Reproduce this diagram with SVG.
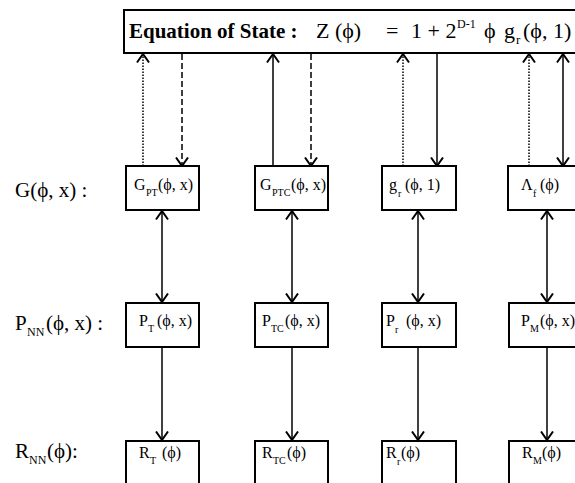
<svg xmlns="http://www.w3.org/2000/svg" width="575" height="483" viewBox="0 0 575 483">
<style>
text{font-family:"Liberation Serif","Times New Roman",serif;fill:#000}
.box{fill:#fff;stroke:#000;stroke-width:2}
.t{font-size:16px}
.s{font-size:10px}
.lab{font-size:21px}
.ls{font-size:12px}
.c{fill:none;stroke:#000;stroke-width:1.5}
.dot{stroke-dasharray:1.5 1.5}
.dash{stroke-dasharray:6 3}
</style>
<defs>
<marker id="ah" viewBox="0 0 10 14" refX="9.5" refY="7" markerWidth="10" markerHeight="14" markerUnits="userSpaceOnUse" orient="auto-start-reverse">
<path d="M1,1 L9.5,7 L1,13" fill="none" stroke="#000" stroke-width="2"/>
</marker>
</defs>
<rect width="575" height="483" fill="#fff"/>
<g id="connectors">
<path class="c dot" d="M143,166 V54" marker-end="url(#ah)"/>
<path class="c dash" d="M182,54 V166" marker-end="url(#ah)"/>
<path class="c" d="M273,166 V54" marker-end="url(#ah)"/>
<path class="c dash" d="M311,54 V166" marker-end="url(#ah)"/>
<path class="c dot" d="M403,166 V54" marker-end="url(#ah)"/>
<path class="c" d="M437,54 V166" marker-end="url(#ah)"/>
<path class="c dot" d="M529,166 V54" marker-end="url(#ah)"/>
<path class="c" d="M563,54 V166" marker-start="url(#ah)" marker-end="url(#ah)"/>
<path class="c" d="M162,211 V302" marker-start="url(#ah)" marker-end="url(#ah)"/>
<path class="c" d="M292,211 V302" marker-start="url(#ah)" marker-end="url(#ah)"/>
<path class="c" d="M418,211 V302" marker-start="url(#ah)" marker-end="url(#ah)"/>
<path class="c" d="M547,211 V302" marker-start="url(#ah)" marker-end="url(#ah)"/>
<path class="c" d="M162,348 V440" marker-end="url(#ah)"/>
<path class="c" d="M292,348 V440" marker-end="url(#ah)"/>
<path class="c" d="M418,348 V440" marker-end="url(#ah)"/>
<path class="c" d="M547,348 V440" marker-end="url(#ah)"/>
</g>
<g id="eos">
<rect class="box" x="124" y="10" width="460" height="43"/>
<text x="129" y="38" font-size="21" font-weight="bold">Equation of State :</text>
<text x="316" y="38" font-size="22">Z (ϕ)</text>
<text x="386" y="38" font-size="22">=</text>
<text x="411" y="38" font-size="22">1 + 2</text>
<text x="457" y="28" font-size="12">D-1</text>
<text x="484" y="38" font-size="22">ϕ</text>
<text x="504" y="38" font-size="22">g</text>
<text x="516" y="44" font-size="13">r</text>
<text x="523" y="38" font-size="22">(ϕ, 1)</text>
</g>
<g id="label-G"><text class="lab" x="15" y="197">G(ϕ, x) :</text></g>
<g id="label-P"><text class="lab" x="15" y="330">P</text><text class="ls" x="27" y="336">NN</text><text class="lab" x="46" y="330">(ϕ, x) :</text></g>
<g id="label-R"><text class="lab" x="15" y="458">R</text><text class="ls" x="29" y="464">NN</text><text class="lab" x="47" y="458">(ϕ):</text></g>
<g id="G-PT"><rect class="box" x="126" y="166" width="73" height="44"/><text class="t" x="134" y="190">G</text><text class="s" x="146" y="196">PT</text><text class="t" x="158" y="190">(ϕ, x)</text></g>
<g id="G-PTC"><rect class="box" x="255" y="166" width="73" height="44"/><text class="t" x="260" y="190">G</text><text class="s" x="272" y="196">PTC</text><text class="t" x="291" y="190">(ϕ, x)</text></g>
<g id="g-r"><rect class="box" x="382" y="166" width="74" height="44"/><text class="t" x="389" y="190">g</text><text class="s" x="398" y="197">r</text><text class="t" x="405" y="190">(ϕ, 1)</text></g>
<g id="Lambda-f"><rect class="box" x="508" y="166" width="80" height="44"/><text class="t" x="521" y="190">Λ</text><text class="s" x="533" y="197">f</text><text class="t" x="540" y="190">(ϕ)</text></g>
<g id="P-T"><rect class="box" x="126" y="303" width="73" height="44"/><text class="t" x="139" y="326">P</text><text class="s" x="148" y="332">T</text><text class="t" x="157" y="326">(ϕ, x)</text></g>
<g id="P-TC"><rect class="box" x="255" y="303" width="73" height="44"/><text class="t" x="262" y="326">P</text><text class="s" x="271" y="332">TC</text><text class="t" x="285" y="326">(ϕ, x)</text></g>
<g id="P-r"><rect class="box" x="382" y="303" width="74" height="44"/><text class="t" x="386" y="326">P</text><text class="s" x="395" y="333">r</text><text class="t" x="406" y="326">(ϕ, x)</text></g>
<g id="P-M"><rect class="box" x="509" y="303" width="80" height="44"/><text class="t" x="521" y="326">P</text><text class="s" x="530" y="332">M</text><text class="t" x="540" y="326">(ϕ, x)</text></g>
<g id="R-T"><rect class="box" x="126" y="441" width="73" height="50"/><text class="t" x="139" y="458">R</text><text class="s" x="150" y="464">T</text><text class="t" x="162" y="458">(ϕ)</text></g>
<g id="R-TC"><rect class="box" x="255" y="441" width="73" height="50"/><text class="t" x="262" y="458">R</text><text class="s" x="273" y="464">TC</text><text class="t" x="287" y="458">(ϕ)</text></g>
<g id="R-r"><rect class="box" x="382" y="441" width="74" height="50"/><text class="t" x="386" y="458">R</text><text class="s" x="397" y="465">r</text><text class="t" x="401" y="458">(ϕ)</text></g>
<g id="R-M"><rect class="box" x="509" y="441" width="80" height="50"/><text class="t" x="522" y="458">R</text><text class="s" x="533" y="464">M</text><text class="t" x="542" y="458">(ϕ)</text></g>
</svg>
